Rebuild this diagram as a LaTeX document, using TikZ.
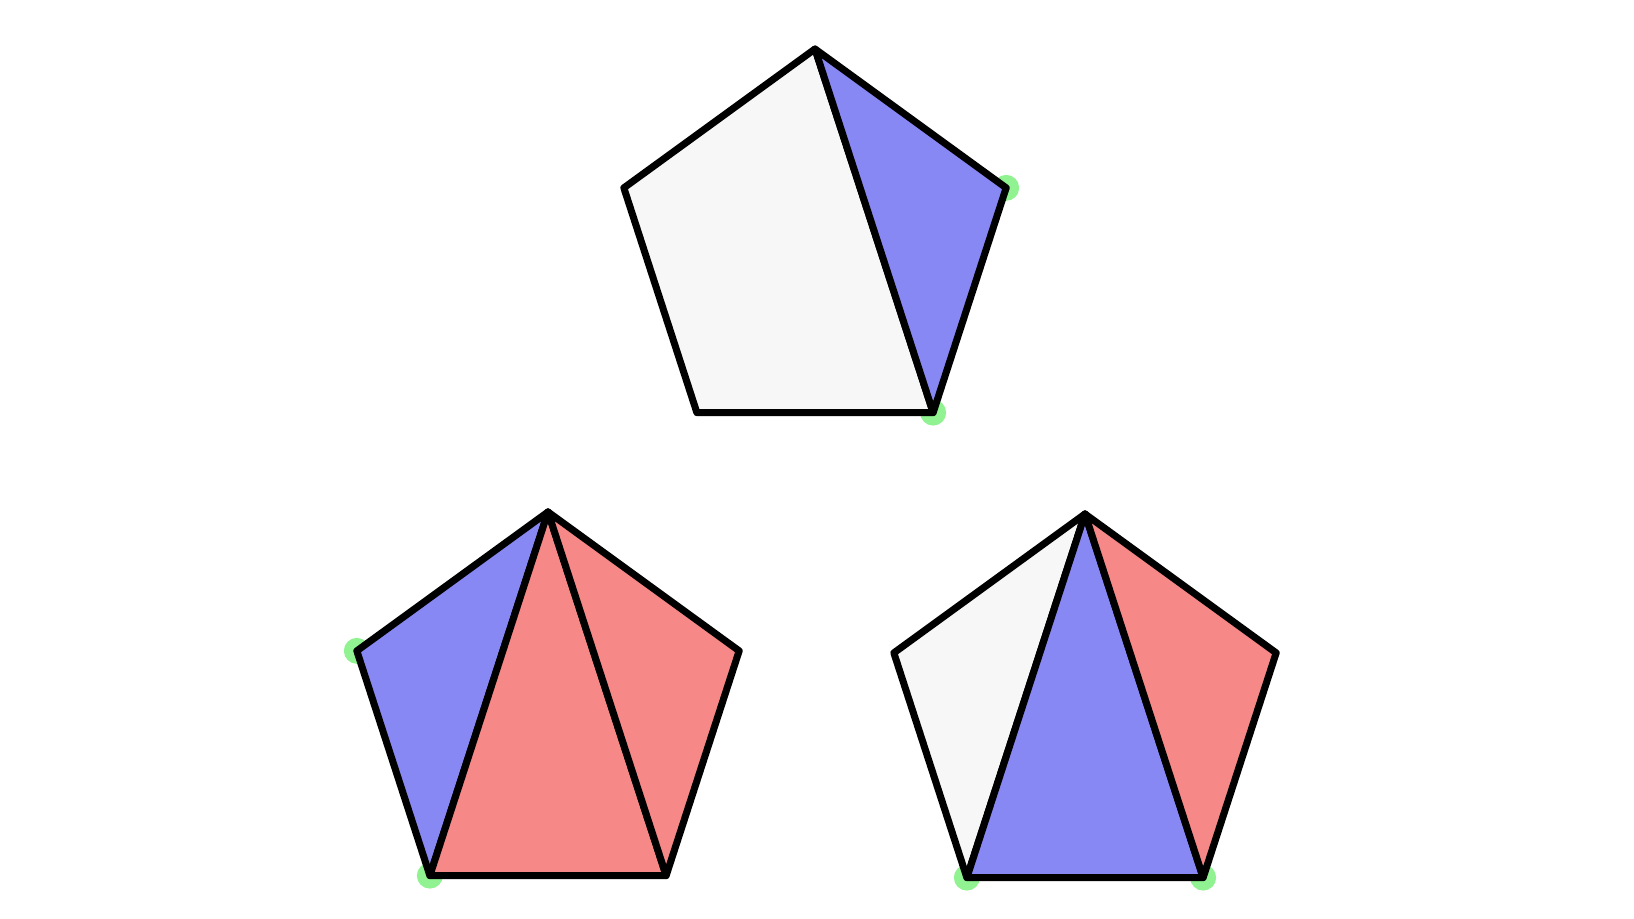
\documentclass[tikz,border=0pt]{standalone}
\usepackage{tikz}
\usetikzlibrary{calc}

\definecolor{faceblue}{HTML}{8888F4}
\definecolor{facered}{HTML}{F78888}
\definecolor{facegrey}{HTML}{F7F7F7}
\definecolor{dotgreen}{HTML}{7CF07C}

\begin{document}
\begin{tikzpicture}[
  face/.style={draw=black,line width=2pt,line join=round},
  vdot/.style={fill=dotgreen,fill opacity=0.85}
]
\useasboundingbox (0,0) rectangle (16.34,9.19);

% pentagon corners: a top, b left, c bottom left, d bottom right, e right
\foreach \p/\cx/\cy in {t/8.15/6.69, l/5.48/2.06, r/10.85/2.04} {
  \foreach \v/\ang in {a/90,b/162,c/234,d/306,e/18}
    \coordinate (\p\v) at ($(\cx,\cy)+(\ang:2.01)$);
}

% marked corners
\foreach \m in {te,td,lb,lc,rc,rd}
  \fill[vdot] (\m) circle (0.13);

% top
\filldraw[face,fill=facegrey] (ta) -- (tb) -- (tc) -- (td) -- cycle;
\filldraw[face,fill=faceblue] (ta) -- (td) -- (te) -- cycle;

% bottom left
\filldraw[face,fill=faceblue] (la) -- (lb) -- (lc) -- cycle;
\filldraw[face,fill=facered] (la) -- (lc) -- (ld) -- cycle;
\filldraw[face,fill=facered] (la) -- (ld) -- (le) -- cycle;

% bottom right
\filldraw[face,fill=facegrey] (ra) -- (rb) -- (rc) -- cycle;
\filldraw[face,fill=faceblue] (ra) -- (rc) -- (rd) -- cycle;
\filldraw[face,fill=facered] (ra) -- (rd) -- (re) -- cycle;
\end{tikzpicture}
\end{document}
